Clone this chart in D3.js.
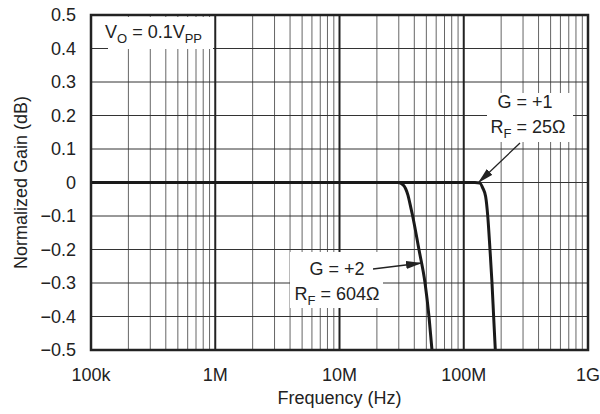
<!DOCTYPE html>
<html>
<head>
<meta charset="utf-8">
<script src="https://cdn.jsdelivr.net/npm/d3@7"></script>
<style>
  body { margin: 0; background: #fff; }
  text { font-family: "Liberation Sans", Arial, sans-serif; fill: #222; }
</style>
</head>
<body>
<div id="chart"></div>
<script>
// frequency (Hz) and normalized gain (dB)
const freqG2 = [1e5, 1e6, 1e7, 25e6, 29.6e6, 32.5e6, 35.5e6, 37.5e6, 38.8e6, 43.6e6, 48.8e6, 52.5e6, 55.5e6];
const gainG2 = [0, 0, 0, 0, 0, -0.007, -0.037, -0.075, -0.1, -0.2, -0.3, -0.4, -0.5];

const freqG1 = [1e5, 1e6, 1e7, 1e8, 123e6, 135e6, 142e6, 150e6, 156e6, 162.6e6, 168.8e6, 174e6, 179.5e6];
const gainG1 = [0, 0, 0, 0, 0, -0.002, -0.016, -0.042, -0.1, -0.2, -0.3, -0.4, -0.5];

const xTicks = [1e5, 1e6, 1e7, 1e8, 1e9];
const xTickLabels = ["100k", "1M", "10M", "100M", "1G"];
const yTicks = [0.5, 0.4, 0.3, 0.2, 0.1, 0, -0.1, -0.2, -0.3, -0.4, -0.5];

const W = 600, H = 414;
const margin = {top: 15, right: 12, bottom: 64, left: 91};
const fs = "18px", fsSub = "13px";

const svg = d3.select("#chart").append("svg")
    .attr("width", W)
    .attr("height", H);

const x = d3.scaleLog().domain([1e5, 1e9]).range([margin.left, W - margin.right]);
const y = d3.scaleLinear().domain([-0.5, 0.5]).range([H - margin.bottom, margin.top]);

const defs = svg.append("defs");
defs.append("marker")
    .attr("id", "arrow")
    .attr("markerUnits", "userSpaceOnUse")
    .attr("viewBox", "0 0 16 8")
    .attr("refX", 16).attr("refY", 4)
    .attr("markerWidth", 16).attr("markerHeight", 8)
    .attr("orient", "auto")
    .append("path")
    .attr("d", "M0,0 L16,4 L0,8 Z")
    .attr("fill", "#222");

// grid: minor decades
const minor = [];
for (let d = 1e5; d < 1e9; d *= 10) {
    for (let k = 2; k <= 9; k++) minor.push(d * k);
}
const grid = svg.append("g");
grid.selectAll(".minor")
    .data(minor)
    .enter().append("line")
    .attr("x1", d => x(d)).attr("x2", d => x(d))
    .attr("y1", y(0.5)).attr("y2", y(-0.5))
    .attr("stroke", "#666")
    .attr("stroke-width", 1);

grid.selectAll(".hgrid")
    .data(yTicks)
    .enter().append("line")
    .attr("x1", x(1e5)).attr("x2", x(1e9))
    .attr("y1", d => y(d)).attr("y2", d => y(d))
    .attr("stroke", "#333")
    .attr("stroke-width", 1);

grid.selectAll(".major")
    .data(xTicks)
    .enter().append("line")
    .attr("x1", d => x(d)).attr("x2", d => x(d))
    .attr("y1", y(0.5)).attr("y2", y(-0.5))
    .attr("stroke", "#222")
    .attr("stroke-width", 2);

// white boxes behind the notes
svg.append("rect").attr("x", 108).attr("y", 17).attr("width", 105).attr("height", 32).attr("fill", "#fff");
svg.append("rect").attr("x", 487).attr("y", 93).attr("width", 86).attr("height", 49).attr("fill", "#fff");
svg.append("rect").attr("x", 290).attr("y", 252).attr("width", 93).attr("height", 56).attr("fill", "#fff");

// curves
const line = d3.line()
    .x(d => x(d[0]))
    .y(d => y(d[1]))
    .curve(d3.curveMonotoneX);

[[freqG2, gainG2], [freqG1, gainG1]].forEach(([f, g]) => {
    svg.append("path")
        .attr("d", line(f.map((v, i) => [v, g[i]])))
        .attr("fill", "none")
        .attr("stroke", "#1a1a1a")
        .attr("stroke-width", 3);
});

// frame
svg.append("rect")
    .attr("x", x(1e5)).attr("y", y(0.5))
    .attr("width", x(1e9) - x(1e5)).attr("height", y(-0.5) - y(0.5))
    .attr("fill", "none")
    .attr("stroke", "#222")
    .attr("stroke-width", 2.5);

// tick labels
svg.selectAll(".ylab")
    .data(yTicks)
    .enter().append("text")
    .attr("x", 76)
    .attr("y", d => y(d))
    .attr("dy", "0.36em")
    .attr("text-anchor", "end")
    .style("font-size", fs)
    .text(d => d === 0 ? "0" : (d < 0 ? "\u2212" : "") + Math.abs(d).toFixed(1));

svg.selectAll(".xlab")
    .data(xTicks)
    .enter().append("text")
    .attr("x", d => x(d))
    .attr("y", 381)
    .attr("text-anchor", "middle")
    .style("font-size", fs)
    .text((d, i) => xTickLabels[i]);

svg.append("text")
    .attr("x", x(1e7)).attr("y", 404)
    .attr("text-anchor", "middle")
    .style("font-size", fs)
    .text("Frequency (Hz)");

svg.append("text")
    .attr("transform", `translate(27,${(y(0.5) + y(-0.5)) / 2}) rotate(-90)`)
    .attr("text-anchor", "middle")
    .style("font-size", fs)
    .text("Normalized Gain (dB)");

// notes
const vo = svg.append("text").attr("x", 105).attr("y", 38).style("font-size", fs);
vo.append("tspan").text("V");
vo.append("tspan").attr("dy", 5).style("font-size", fsSub).text("O");
vo.append("tspan").attr("dy", -5).text(" = 0.1V");
vo.append("tspan").attr("dy", 5).style("font-size", fsSub).text("PP");

svg.append("text").attr("x", 525).attr("y", 108).attr("text-anchor", "middle")
    .style("font-size", fs).text("G = +1");
const rf1 = svg.append("text").attr("x", 528).attr("y", 133).attr("text-anchor", "middle").style("font-size", fs);
rf1.append("tspan").text("R");
rf1.append("tspan").attr("dy", 5).style("font-size", fsSub).text("F");
rf1.append("tspan").attr("dy", -5).text(" = 25\u03A9");

svg.append("text").attr("x", 337).attr("y", 275).attr("text-anchor", "middle")
    .style("font-size", fs).text("G = +2");
const rf2 = svg.append("text").attr("x", 337).attr("y", 300).attr("text-anchor", "middle").style("font-size", fs);
rf2.append("tspan").text("R");
rf2.append("tspan").attr("dy", 5).style("font-size", fsSub).text("F");
rf2.append("tspan").attr("dy", -5).text(" = 604\u03A9");

// arrows
svg.append("line")
    .attr("x1", 520).attr("y1", 143).attr("x2", 478).attr("y2", 183)
    .attr("stroke", "#222").attr("stroke-width", 1.3)
    .attr("marker-end", "url(#arrow)");
svg.append("line")
    .attr("x1", 373).attr("y1", 269).attr("x2", 422).attr("y2", 263)
    .attr("stroke", "#222").attr("stroke-width", 1.3)
    .attr("marker-end", "url(#arrow)");
</script>
</body>
</html>
